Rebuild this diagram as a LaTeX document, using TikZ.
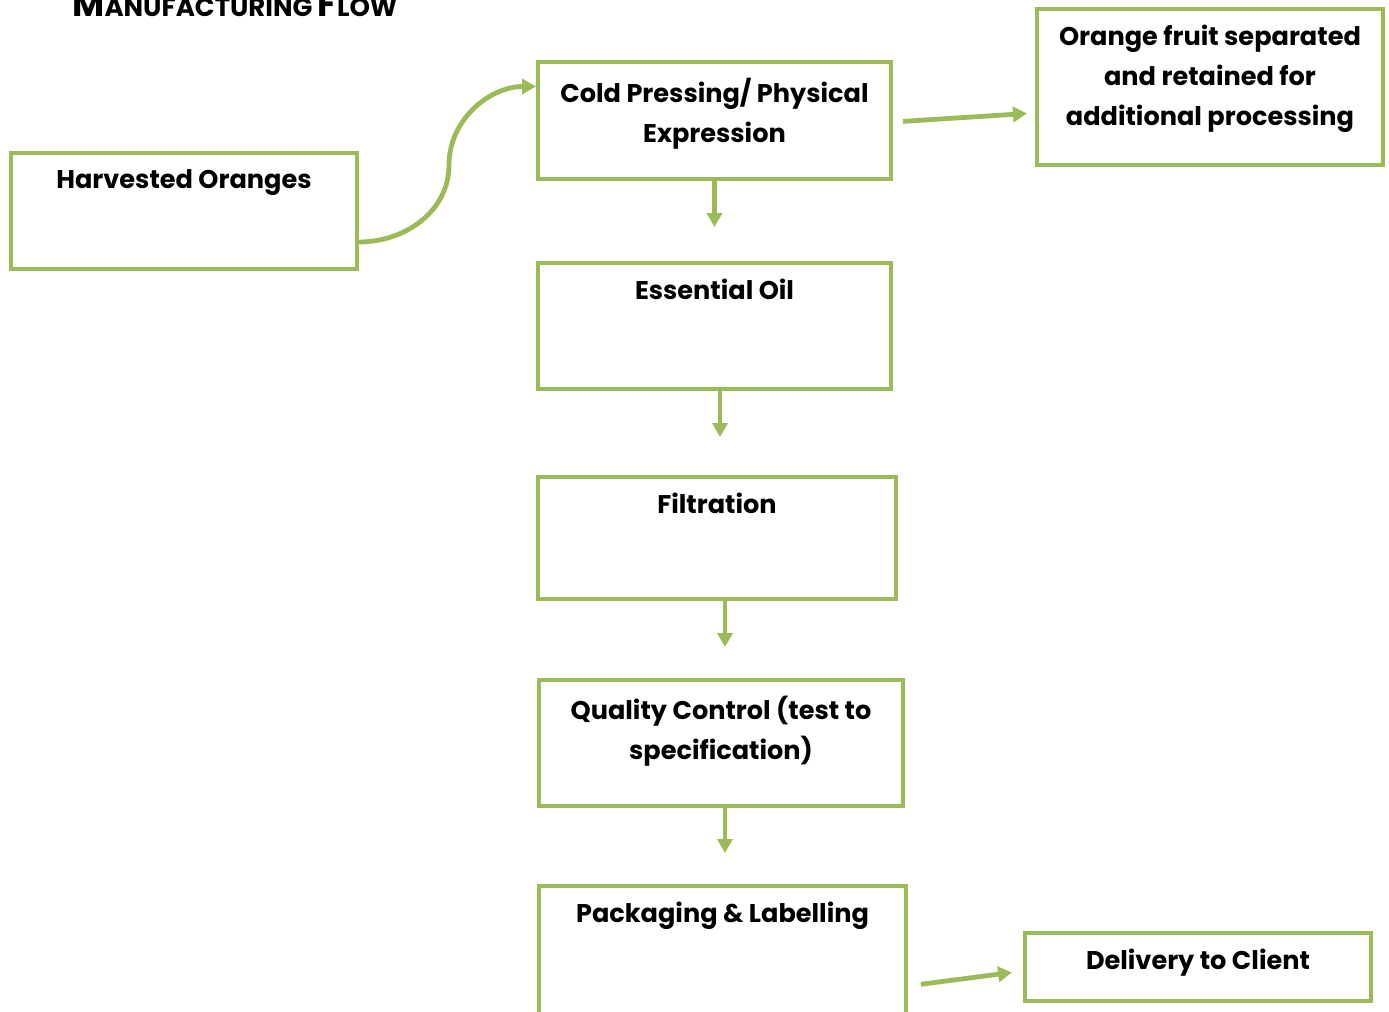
\documentclass[tikz,border=0pt]{standalone}
\usepackage{fontspec}
\setmainfont{Poppins}
\usetikzlibrary{arrows.meta}
\definecolor{hojaverde}{HTML}{9BBB59}

\begin{document}
\begin{tikzpicture}[x=0.5pt, y=-0.5pt,
    etapa/.style={
        draw=hojaverde,
        line width=2pt,
        inner sep=0pt,
        anchor=north west
    },
    texto/.style={
        anchor=north,
        inner sep=0pt,
        yshift=-9pt,
        align=center,
        font=\fontsize{12.8}{20}\selectfont\bfseries
    },
    flecha/.style={
        draw=hojaverde,
        line width=2.4pt,
        -{Triangle[length=7pt,width=7.5pt]}
    }
]

%------------------------------------------------
% Marco
%------------------------------------------------
\useasboundingbox (0,0) rectangle (1389,1012);

%------------------------------------------------
% Título
%------------------------------------------------
\node[anchor=base west, inner sep=0pt, font=\bfseries] (titulo) at (72,17)
    {{\fontsize{17.5}{17.5}\selectfont M}{\fontsize{13}{13}\selectfont ANUFACTURING }%
     {\fontsize{17.5}{17.5}\selectfont F}{\fontsize{13}{13}\selectfont LOW}};

%------------------------------------------------
% Etapas
%------------------------------------------------
\node[etapa, minimum width=173pt, minimum height=58pt,
    label={[texto]90:Harvested Oranges}] (cosecha) at (9,151) {};
\node[etapa, minimum width=176.5pt, minimum height=58.5pt,
    label={[texto]90:Cold Pressing/ Physical\\Expression}] (prensado) at (536,60) {};
\node[etapa, minimum width=173pt, minimum height=78pt,
    label={[texto]90:Orange fruit separated\\and retained for\\additional processing}] (fruta) at (1035,7) {};
\node[etapa, minimum width=176.5pt, minimum height=63pt,
    label={[texto]90:Essential Oil}] (aceite) at (536,261) {};
\node[etapa, minimum width=179pt, minimum height=61pt,
    label={[texto]90:Filtration}] (filtrado) at (536,475) {};
\node[etapa, minimum width=182pt, minimum height=63pt,
    label={[texto]90:Quality Control (test to\\specification)}] (calidad) at (537,678) {};
\node[etapa, minimum width=183.5pt, minimum height=80pt,
    label={[texto]90:Packaging \& Labelling}] (envasado) at (537,884) {};
\node[etapa, minimum width=173pt, minimum height=34pt,
    label={[texto]90:Delivery to Client}] (entrega) at (1023,931) {};

%------------------------------------------------
% Flechas
%------------------------------------------------
\coordinate (vuelta) at (449,165);
\draw[flecha] ([yshift=-15.5pt]cosecha.east) to[out=0, in=-90] (vuelta)
    to[out=90, in=180] ([yshift=17pt]prensado.west);
\draw[flecha, shorten <=5pt, shorten >=4pt] ([yshift=-0.75pt]prensado.east)
    -- ([yshift=-13pt]fruta.west);

\draw[flecha, shorten >=17pt] (prensado.south) -- (prensado.south |- aceite.north);
\draw[flecha, shorten >=19pt] ([xshift=2.75pt]aceite.south)
    -- ([xshift=2.75pt]aceite.south |- filtrado.north);
\draw[flecha, shorten >=15.5pt] ([xshift=4pt]filtrado.south)
    -- ([xshift=4pt]filtrado.south |- calidad.north);
\draw[flecha, shorten >=15.5pt] ([xshift=2pt]calidad.south)
    -- ([xshift=2pt]calidad.south |- envasado.north);

\draw[flecha, shorten <=6.5pt, shorten >=5.5pt] ([yshift=-10pt]envasado.east)
    -- ([yshift=-2pt]entrega.west);

\end{tikzpicture}
\end{document}
